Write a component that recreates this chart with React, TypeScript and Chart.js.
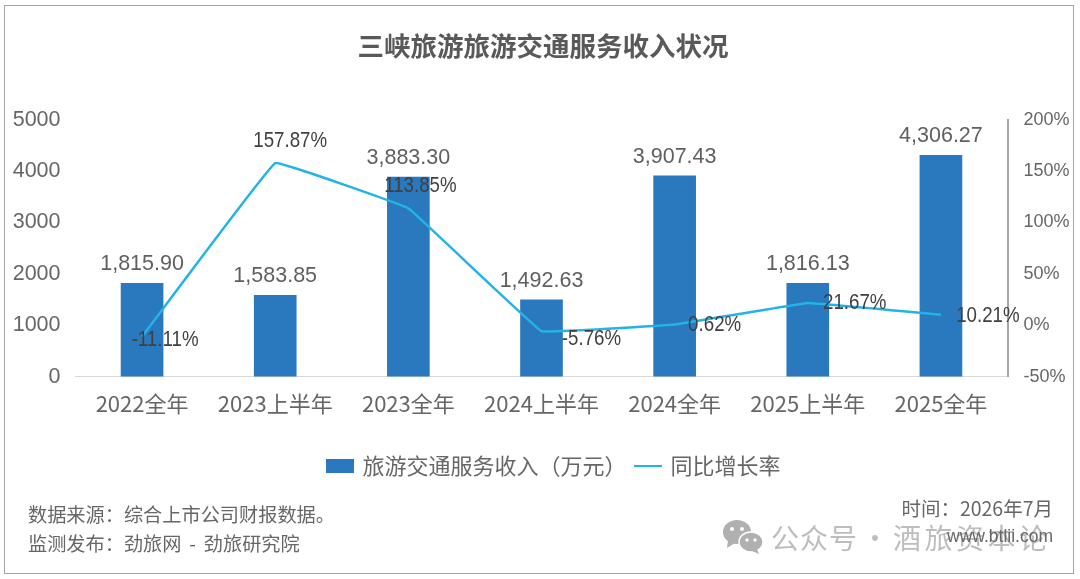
import React, { useEffect, useRef } from "react";
import { Chart, registerables } from "chart.js";

Chart.register(...registerables);

const categories = ["2022全年", "2023上半年", "2023全年", "2024上半年", "2024全年", "2025上半年", "2025全年"];
const revenue = [1815.9, 1583.85, 3883.3, 1492.63, 3907.43, 1816.13, 4306.27];
const growth = [-11.11, 157.87, 113.85, -5.76, 0.62, 21.67, 10.21];
const revenueTicks = [0, 1000, 2000, 3000, 4000, 5000];
const growthTicks = [-50, 0, 50, 100, 150, 200];
const growthLabelOffsets = [[23, 3], [15, -22], [12, -22], [50, 8], [40, 0], [47, 0], [47, 1]];

const CJK = '"Noto Sans CJK SC", "Liberation Sans", sans-serif';
const LATIN = '"Liberation Sans", Arial, sans-serif';
const GREY = "#666666";
const BAR = "#2a78bd";
const LINE = "#22b3e8";

const swatch = (w: number, h: number, color: string) => {
  const c = document.createElement("canvas");
  c.width = w;
  c.height = h;
  const g = c.getContext("2d")!;
  g.fillStyle = color;
  g.fillRect(0, 0, w, h);
  return c;
};

const labelsPlugin = {
  id: "valueLabels",
  afterLayout(chart: any) {
    const legendShift = 14.5;
    const titleShift = 3;
    chart.legend.left += legendShift;
    chart.legend.right += legendShift;
    chart.titleBlock.left += titleShift;
    chart.titleBlock.right += titleShift;
  },
  afterDatasetsDraw(chart: any) {
    const { ctx } = chart;
    ctx.save();
    ctx.textAlign = "center";
    ctx.textBaseline = "middle";
    const bars = chart.getDatasetMeta(0).data;
    ctx.font = `21.5px ${LATIN}`;
    ctx.fillStyle = "#5f5f5f";
    bars.forEach((b: any, i: number) => {
      ctx.fillText(revenue[i].toLocaleString("en-US", { minimumFractionDigits: 2 }), b.x, b.y - 19);
    });
    const pts = chart.getDatasetMeta(1).data;
    ctx.font = `21.5px ${LATIN}`;
    ctx.fillStyle = "#404040";
    pts.forEach((p: any, i: number) => {
      const [dx, dy] = growthLabelOffsets[i];
      ctx.save();
      ctx.translate(p.x + dx, p.y + dy);
      ctx.scale(0.87, 1);
      ctx.fillText(`${growth[i].toFixed(2)}%`, 0, 0);
      ctx.restore();
    });
    ctx.restore();
  },
};

const App = () => {
  const ref = useRef<HTMLCanvasElement>(null);
  useEffect(() => {
    const rectSwatch = swatch(28, 14, BAR);
    const lineSwatch = swatch(28, 2, LINE);
    const chart = new Chart(ref.current!, {
      type: "bar",
      data: {
        labels: categories,
        datasets: [
          {
            type: "bar",
            label: "旅游交通服务收入（万元）",
            data: revenue,
            backgroundColor: BAR,
            yAxisID: "y",
            barThickness: 42,
            order: 2,
          },
          {
            type: "line",
            label: "同比增长率",
            data: growth,
            borderColor: LINE,
            backgroundColor: LINE,
            borderWidth: 2.5,
            pointRadius: 0,
            tension: 0.04,
            yAxisID: "y1",
            order: 1,
          },
        ],
      } as any,
      options: {
        responsive: false,
        animation: false,
        devicePixelRatio: 1,
        layout: { padding: { left: 0, right: 0, top: 0, bottom: 92 } },
        plugins: {
          title: {
            display: true,
            text: "三峡旅游旅游交通服务收入状况",
            color: "#595959",
            font: { family: CJK, size: 26.5, weight: "bold" },
            padding: { top: 30, bottom: 58 },
          },
          legend: {
            display: true,
            position: "bottom",
            labels: {
              color: GREY,
              font: { family: CJK, size: 22 },
              usePointStyle: true,
              pointStyleWidth: 23,
              boxHeight: 14,
              padding: 10,
              generateLabels: (c: any) =>
                c.data.datasets.map((d: any, i: number) => ({
                  text: d.label,
                  fillStyle: d.backgroundColor,
                  strokeStyle: d.backgroundColor,
                  fontColor: GREY,
                  lineWidth: 0,
                  pointStyle: i === 1 ? lineSwatch : rectSwatch,
                  datasetIndex: i,
                })),
            },
          },
          tooltip: { enabled: false },
        },
        scales: {
          x: {
            grid: { display: false, drawTicks: false },
            border: { color: "#d9d9d9", width: 1 },
            afterFit: (s: any) => { s.height += 14; },
            ticks: { color: GREY, font: { family: CJK, size: 22 }, padding: 14, maxRotation: 0 },
          },
          y: {
            position: "left",
            min: 0,
            max: 5000,
            grid: { display: false, drawTicks: false },
            border: { display: false },
            afterFit: (s: any) => { s.width = 75.5; },
            afterBuildTicks: (s: any) => { s.ticks = revenueTicks.map((value) => ({ value })); },
            ticks: { color: GREY, font: { family: LATIN, size: 21.5 }, padding: 15, callback: (v: any) => `${v}` },
          },
          y1: {
            position: "right",
            min: -50,
            max: 200,
            grid: { display: false, drawTicks: false },
            border: { color: "#a6a6a6", width: 2 },
            afterFit: (s: any) => { s.width = 72.5; },
            afterBuildTicks: (s: any) => { s.ticks = growthTicks.map((value) => ({ value })); },
            ticks: { color: GREY, font: { family: LATIN, size: 18 }, padding: 16, callback: (v: any) => `${v}%` },
          },
        },
      },
      plugins: [labelsPlugin],
    } as any);
    return () => chart.destroy();
  }, []);

  const note = (style: React.CSSProperties) => ({
    position: "absolute" as const,
    fontFamily: CJK,
    color: GREY,
    whiteSpace: "nowrap" as const,
    lineHeight: 1,
    ...style,
  });
  const mark = { top: 523, fontSize: 28, color: "#bdbdbd" };

  return (
    <div style={{ position: "fixed", left: 0, top: 0, width: 1080, height: 579, background: "#fff", overflow: "hidden" }}>
      <canvas ref={ref} width={1080} height={579} style={{ display: "block", position: "absolute", left: 0, top: 0 }} />
      <div style={{ position: "absolute", left: 4, top: 5, width: 1070, height: 569, border: "1.5px solid #a6a6a6", boxSizing: "border-box", pointerEvents: "none" }} />
      <div style={note({ left: 28, top: 505, fontSize: 19.2 })}>数据来源：综合上市公司财报数据。</div>
      <div style={note({ left: 28, top: 534, fontSize: 19.2, wordSpacing: 3.5 })}>监测发布：劲旅网 - 劲旅研究院</div>
      <div style={note({ right: 27, top: 498, fontSize: 19.5 })}>时间：2026年7月</div>
      <div style={note({ ...mark, left: 771, letterSpacing: 1 })}>公众号</div>
      <div style={note({ ...mark, left: 861 })}>·</div>
      <div style={note({ ...mark, left: 893, letterSpacing: 3.5 })}>酒旅资本论</div>
      <div style={note({ right: 27, top: 528, fontSize: 17.5, fontFamily: LATIN })}>www.btlii.com</div>
      <svg style={{ position: "absolute", left: 722, top: 519 }} width={42} height={36} viewBox="0 0 42 36">
        <ellipse cx="15" cy="13" rx="14" ry="12" fill="#b0b0b0" />
        <path d="M6 21 L5 29 L13 24 Z" fill="#b0b0b0" />
        <ellipse cx="29" cy="23" rx="12" ry="10" fill="#b0b0b0" stroke="#fff" strokeWidth="1.5" />
        <path d="M35 30 L37 35 L30 32 Z" fill="#b0b0b0" />
        <circle cx="10" cy="10" r="2" fill="#fff" /><circle cx="20" cy="10" r="2" fill="#fff" />
        <circle cx="25" cy="21" r="1.7" fill="#fff" /><circle cx="33" cy="21" r="1.7" fill="#fff" />
      </svg>
    </div>
  );
};

export default App;
